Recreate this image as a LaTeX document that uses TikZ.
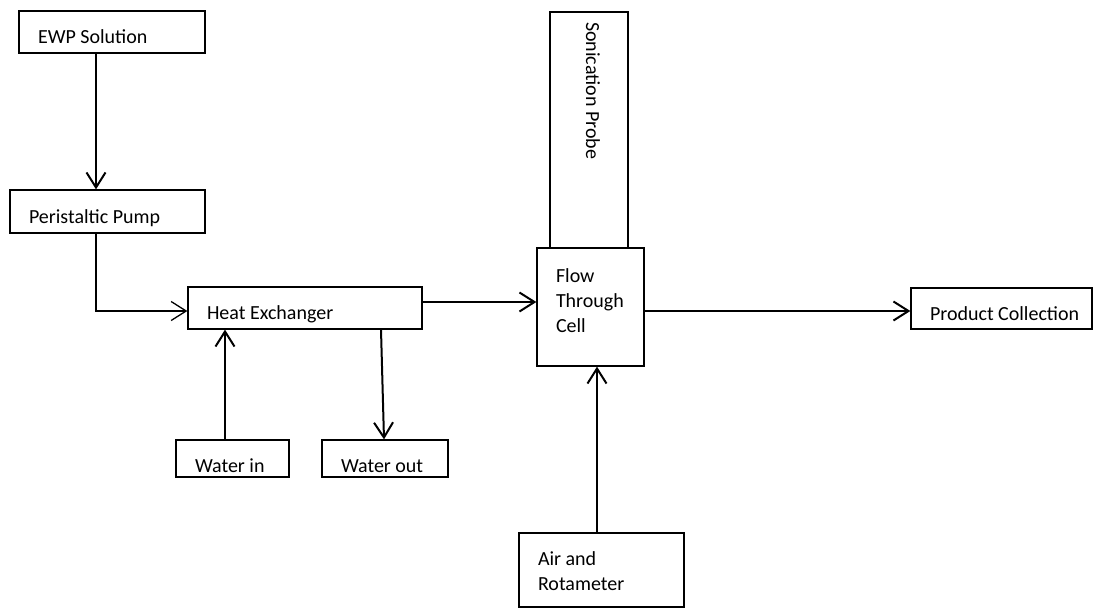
\documentclass[tikz,border=0pt]{standalone}
\usepackage{fontspec}
\setmainfont{Carlito}
\usetikzlibrary{arrows.meta}
\begin{document}
\begin{tikzpicture}[x=1pt, y=-1pt,
  font=\fontsize{20}{25}\selectfont,
  box/.style={draw, line width=1.3pt, inner xsep=19pt, inner ysep=0pt,
    align=flush left, text height=23pt, text depth=0pt},
  flow/.style={line width=2pt, -{Straight Barb[length=15pt, width=19pt]}}]
  \useasboundingbox (0,0) rectangle (1096,608);
  % feed line
  \node[box, minimum height=42pt, text width=148pt] (ewp) at (112,32) {EWP Solution};
  \node[box, minimum height=43pt, text width=157pt] (pump) at (107.5,211.5) {Peristaltic Pump};
  \node[box, minimum height=42pt, text width=196pt] (hx) at (305,308) {Heat Exchanger};
  % cooling water
  \node[box, minimum height=37pt, text width=75pt, text height=27pt] (win) at (232.5,458.5) {Water in};
  \node[box, minimum height=37pt, text width=88pt, text height=27pt] (wout) at (385,458.5) {Water out};
  % sonication
  \node[box, minimum height=118pt, text width=69pt, text height=10pt, text depth=60pt] (ftc) at (590.5,307) {Flow\\Through\\Cell};
  \node[box, rotate=-90, minimum width=236pt, minimum height=78pt, inner xsep=10pt,
    text width=216pt, text height=13pt, text depth=7pt] (probe) at (589,130) {Sonication Probe};
  \node[box, minimum height=74pt, text width=127pt, text height=14pt, text depth=24pt] (air) at (601.5,570) {Air and\\Rotameter};
  \node[box, minimum height=41pt, text width=143pt] (prod) at (1001.5,308.5) {\mbox{Product Collection}};
  % connectors
  \draw[flow] ([xshift=-16pt]ewp.south) -- ([xshift=-16pt]ewp.south |- pump.north);
  \draw[flow, line width=1.3pt] ([xshift=-11.5pt]pump.south) |- ([yshift=-3pt]hx.west);
  \draw[flow] ([xshift=-7.5pt]win.north) -- ([xshift=-7.5pt]win.north |- hx.south);
  \draw[flow] ([xshift=76pt]hx.south) -- ([xshift=-1pt]wout.north);
  \draw[flow] ([yshift=6pt]hx.east) -- ([yshift=6pt]hx.east -| ftc.west);
  \draw[flow] ([xshift=-4.5pt]air.north) -- ([xshift=-4.5pt]air.north |- ftc.south);
  \draw[flow] ([yshift=-4pt]ftc.east) -- ([yshift=-4pt]ftc.east -| prod.west);
\end{tikzpicture}
\end{document}
